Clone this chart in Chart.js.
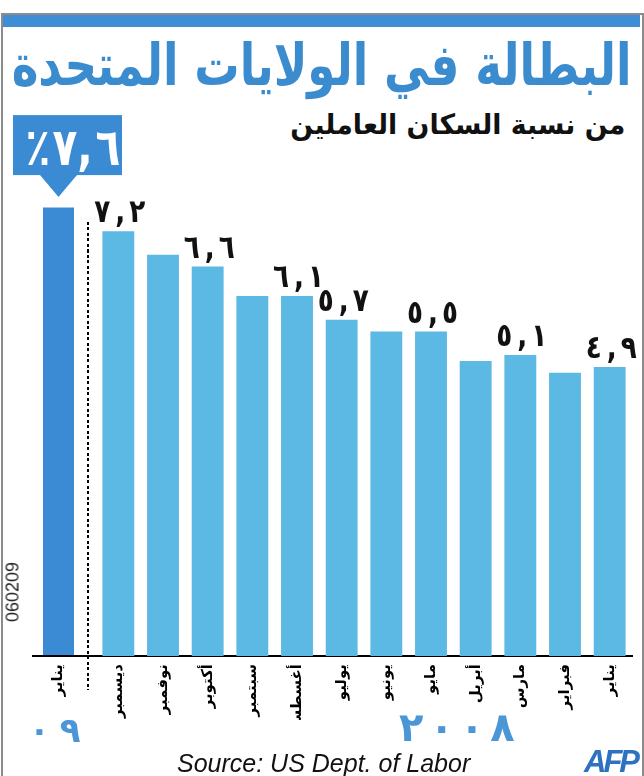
<!DOCTYPE html>
<html>
<head>
<meta charset="utf-8">
<script src="https://cdn.jsdelivr.net/npm/chart.js@4.4.1/dist/chart.umd.min.js"></script>
<style>
  html, body { margin:0; padding:0; background:#fff; }
  #root { position:relative; width:644px; height:776px; overflow:hidden; background:#fff; }
  .frame { position:absolute; left:1px; top:13px; width:639px; height:761px; border:2px solid #8c8c8c; }
  .band { position:absolute; left:3px; top:15px; width:637px; height:12px; background:#3f8dd4; }
  .txt { position:absolute; white-space:nowrap; display:inline-block; line-height:1; }
  .digits { position:absolute; display:flex; direction:ltr; line-height:1; white-space:nowrap; }
  #title { font:bold 58px 'DejaVu Sans'; color:#3b8bcf; direction:rtl; right:12px; top:31px; transform-origin:right center; }
  #subtitle { font:bold 28px 'DejaVu Sans'; color:#111; direction:rtl; right:19px; top:108px; transform-origin:right center; }
  #y2008 { font:bold 40px 'DejaVu Sans'; color:#4a96d6; left:399px; top:704px; gap:6px; }
  #y09 { font:bold 34px 'DejaVu Sans'; color:#4a96d6; left:29px; top:710px; gap:10px; }
  #source { font:italic 25px 'Liberation Sans'; color:#111; left:177px; top:749px; }
  #afp { font:italic bold 31px 'Liberation Sans'; color:#2d72c2; right:7px; top:744px; letter-spacing:-3px; }
  #code { font:18px 'Liberation Sans'; color:#222; left:13px; top:592px; transform:translate(-50%,-50%) rotate(-90deg); }
  .dash { position:absolute; left:87px; top:222px; width:2px; height:468px;
          background:repeating-linear-gradient(to bottom, #000 0 3px, transparent 3px 5.5px); }
  canvas { position:absolute; left:0; top:100px; }
</style>
</head>
<body>
<div id="root">
  <div class="frame"></div>
  <div class="band"></div>
  <span class="txt" id="title">البطالة في الولايات المتحدة</span>
  <span class="txt" id="subtitle">من نسبة السكان العاملين</span>
  <canvas id="c2009" width="644" height="620"></canvas>
  <canvas id="c2008" width="644" height="620"></canvas>
  <div class="dash"></div>
  <div class="digits" id="y09"><span>٠</span><span>٩</span></div>
  <div class="digits" id="y2008"><span>٢</span><span>٠</span><span>٠</span><span>٨</span></div>
  <span class="txt" id="source">Source: US Dept. of Labor</span>
  <span class="txt" id="afp">AFP</span>
  <span class="txt" id="code">060209</span>
</div>
<script>
// ---- data ----
const labels2009 = ['يناير'];
const values2009 = [7.6];
const labels2008 = ['ديسمبر','نوفمبر','أكتوبر','سبتمبر','أغسطس','يوليو','يونيو','مايو','أبريل','مارس','فبراير','يناير'];
const values2008 = [7.2, 6.8, 6.6, 6.1, 6.1, 5.7, 5.5, 5.5, 5.0, 5.1, 4.8, 4.9];
const showValue2008 = [true, false, true, false, true, true, false, true, false, true, false, true];
const yMin = 0, yMax = 8;

const AR_DIGITS = '٠١٢٣٤٥٦٧٨٩';
function arDigits(s) { return s.replace(/[0-9]/g, d => AR_DIGITS[+d]); }
function valueParts(v) {
  const [a, b] = v.toFixed(1).split('.');
  return [arDigits(a), ',', arDigits(b)];
}
function drawGlyph(ctx, ch, x, y, sx) {
  ctx.save();
  ctx.translate(x, y);
  ctx.scale(sx, 1);
  ctx.fillText(ch, 0, 0);
  ctx.restore();
}

const LIGHT = '#5cb9e4';
const DARK = '#3a8bd3';

function xAxis(showBorder) {
  return {
    type: 'category',
    grid: { display: false, drawTicks: false },
    border: { display: showBorder, color: '#000', width: 2 },
    ticks: {
      minRotation: 90, maxRotation: 90, autoSkip: false, padding: 8,
      color: '#000', font: { family: 'DejaVu Sans', weight: 'bold', size: 15 }
    },
    afterFit(scale) { scale.height = 64; }
  };
}

const valueLabels = {
  id: 'valueLabels',
  afterDatasetsDraw(chart) {
    const ctx = chart.ctx;
    const meta = chart.getDatasetMeta(0);
    ctx.save();
    ctx.fillStyle = '#111';
    ctx.font = 'bold 32px "DejaVu Sans"';
    ctx.textAlign = 'center';
    ctx.textBaseline = 'alphabetic';
    meta.data.forEach((bar, i) => {
      if (!showValue2008[i]) return;
      const p = valueParts(values2008[i]);
      const y = bar.y - 9;
      drawGlyph(ctx, p[0], bar.x - 16, y, 0.82);
      drawGlyph(ctx, p[1], bar.x + 2, y, 0.82);
      drawGlyph(ctx, p[2], bar.x + 19, y, 0.82);
    });
    ctx.restore();
  }
};

const callout = {
  id: 'callout',
  afterDatasetsDraw(chart) {
    const ctx = chart.ctx;
    const bar = chart.getDatasetMeta(0).data[0];
    const cx = bar.x, top = bar.y;
    const bx0 = cx - 45.5, bx1 = cx + 63.5;
    const by1 = top - 32.5, by0 = top - 92.5;
    ctx.save();
    ctx.fillStyle = DARK;
    ctx.fillRect(bx0, by0, bx1 - bx0, by1 - by0);
    ctx.beginPath();
    ctx.moveTo(cx - 18.5, by1);
    ctx.lineTo(cx + 18.5, by1);
    ctx.lineTo(cx, top - 10.5);
    ctx.closePath();
    ctx.fill();
    const p = valueParts(values2009[0]);
    ctx.fillStyle = '#fff';
    ctx.font = 'bold 52px "DejaVu Sans"';
    ctx.textAlign = 'center';
    ctx.textBaseline = 'alphabetic';
    const base = by1 - 10;
    drawGlyph(ctx, '٪', bx0 + 25, base, 0.78);
    drawGlyph(ctx, p[0], bx0 + 52, base, 0.78);
    drawGlyph(ctx, p[1], bx0 + 72, base, 0.78);
    drawGlyph(ctx, p[2], bx0 + 95, base, 0.78);
    // baseline of the axis for the 2009 part
    const y0 = chart.scales.y.getPixelForValue(0);
    ctx.fillStyle = '#000';
    ctx.fillRect(32, y0 - 1, chart.chartArea.right + 9 - 32, 2);
    ctx.restore();
  }
};

const common = (padL, padR) => ({
  responsive: false,
  animation: false,
  events: [],
  layout: { padding: { top: 84, left: padL, right: padR, bottom: 0 } },
  plugins: { legend: { display: false }, tooltip: { enabled: false } },
});

new Chart(document.getElementById('c2009'), {
  type: 'bar',
  data: { labels: labels2009, datasets: [{ data: values2009, backgroundColor: DARK, barPercentage: 0.544, categoryPercentage: 1 }] },
  options: Object.assign(common(30, 644 - 87), {
    scales: { x: xAxis(false), y: { display: false, min: yMin, max: yMax } }
  }),
  plugins: [callout]
});

new Chart(document.getElementById('c2008'), {
  type: 'bar',
  data: { labels: labels2008, datasets: [{ data: values2008, backgroundColor: LIGHT, barPercentage: 0.714, categoryPercentage: 1 }] },
  options: Object.assign(common(96, 644 - 632), {
    scales: { x: xAxis(true), y: { display: false, min: yMin, max: yMax } }
  }),
  plugins: [valueLabels]
});

function fitWidth(id, target) {
  const el = document.getElementById(id);
  const w = el.getBoundingClientRect().width;
  if (w > 0) el.style.transform = 'scaleX(' + (target / w) + ')';
}
fitWidth('title', 620);
fitWidth('subtitle', 335);
</script>
</body>
</html>
